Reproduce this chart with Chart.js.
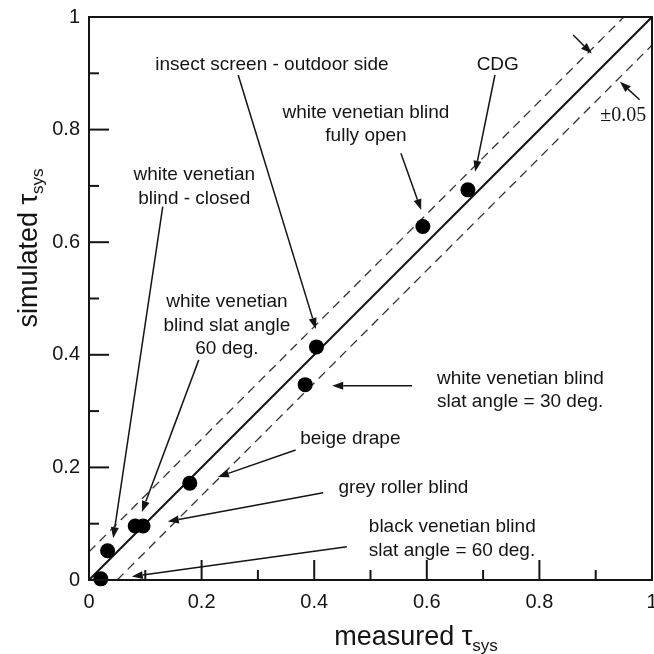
<!DOCTYPE html>
<html><head><meta charset="utf-8">
<script src="https://cdn.jsdelivr.net/npm/chart.js@4/dist/chart.umd.min.js"></script>
<style>html,body{margin:0;padding:0;background:#fff}#wrap{width:654px;height:654px;position:relative}</style>
</head><body><div id="wrap"><canvas id="c"></canvas></div>
<script>
// ---- data ----
const measured  = [0.021, 0.033, 0.082, 0.096, 0.179, 0.384, 0.404, 0.593, 0.673];
const simulated = [0.002, 0.052, 0.096, 0.096, 0.172, 0.347, 0.414, 0.628, 0.693];
// 1:1 line and +/-0.05 band
const identityX = [0, 1];
const identityY = [0, 1];
const upperX = [0, 0.95];
const upperY = [0.05, 1];
const lowerX = [0.05, 1];
const lowerY = [0, 0.95];
// axis ticks (step 0.1, labelled every 0.2)
const xTickLabels = ['0', '', '0.2', '', '0.4', '', '0.6', '', '0.8', '', '1'];
const yTickLabels = ['0', '', '0.2', '', '0.4', '', '0.6', '', '0.8', '', '1'];
const xTitle = ['measured \u03C4', 'sys'];
const yTitle = ['simulated \u03C4', 'sys'];

// annotation labels (text) and their placements in data units
const labelTexts = [
  ['insect screen - outdoor side'],
  ['CDG'],
  ['white venetian blind', 'fully open'],
  ['white venetian', 'blind - closed'],
  ['white venetian', 'blind slat angle', '60 deg.'],
  ['white venetian blind', 'slat angle = 30 deg.'],
  ['beige drape'],
  ['grey roller blind'],
  ['black venetian blind', 'slat angle = 60 deg.']
];
const labelPlacement = [
  {x:0.325, y:0.915, align:'center', tail:[0.265,0.897], tip:[0.403,0.446]},
  {x:0.726, y:0.915, align:'center', tail:[0.721,0.897], tip:[0.686,0.725]},
  {x:0.492, y:0.830, align:'center', tail:[0.554,0.758], tip:[0.590,0.657]},
  {x:0.187, y:0.719, align:'center', tail:[0.131,0.663], tip:[0.043,0.074]},
  {x:0.245, y:0.494, align:'center', tail:[0.195,0.391], tip:[0.094,0.121]},
  {x:0.618, y:0.358, align:'left',   tail:[0.574,0.345], tip:[0.432,0.345]},
  {x:0.375, y:0.251, align:'left',   tail:[0.367,0.231], tip:[0.229,0.183]},
  {x:0.443, y:0.163, align:'left',   tail:[0.416,0.155], tip:[0.140,0.104]},
  {x:0.497, y:0.094, align:'left',   tail:[0.458,0.059], tip:[0.076,0.006]}
];
const bandText = '\u00B10.05';
const bandPlacement = {x:0.908, y:0.824};
const bandArrows = [
  {tail:[0.978,0.853], tip:[0.943,0.885]},
  {tail:[0.860,0.968], tip:[0.893,0.935]}
];

const INK = '#141414';
const SANS = '"Liberation Sans", Arial, sans-serif';

function arrow(ctx, x1, y1, x2, y2) {
  const ang = Math.atan2(y2 - y1, x2 - x1);
  const L = 11, W = 4;
  const bx = x2 - L * Math.cos(ang), by = y2 - L * Math.sin(ang);
  ctx.beginPath(); ctx.moveTo(x1, y1); ctx.lineTo(bx, by); ctx.stroke();
  ctx.beginPath();
  ctx.moveTo(x2, y2);
  ctx.lineTo(bx + W * Math.sin(ang), by - W * Math.cos(ang));
  ctx.lineTo(bx - W * Math.sin(ang), by + W * Math.cos(ang));
  ctx.closePath(); ctx.fill();
}

function subTitle(ctx, parts, cx, cy, mainPx, subPx, rotate) {
  ctx.save();
  ctx.translate(cx, cy);
  if (rotate) ctx.rotate(-Math.PI / 2);
  ctx.font = mainPx + 'px ' + SANS;
  const w1 = ctx.measureText(parts[0]).width;
  ctx.font = subPx + 'px ' + SANS;
  const w2 = ctx.measureText(parts[1]).width;
  const start = -(w1 + w2) / 2;
  ctx.textBaseline = 'alphabetic'; ctx.textAlign = 'left';
  ctx.font = mainPx + 'px ' + SANS;
  ctx.fillText(parts[0], start, 0);
  ctx.font = subPx + 'px ' + SANS;
  ctx.fillText(parts[1], start + w1, 6);
  ctx.restore();
}

const deco = {
  id: 'deco',
  afterDraw(chart) {
    const {ctx, chartArea: a, scales: {x, y}} = chart;
    ctx.save();
    ctx.strokeStyle = INK; ctx.fillStyle = INK;
    // frame
    ctx.lineWidth = 2;
    ctx.strokeRect(a.left, a.top, a.right - a.left, a.bottom - a.top);
    // inward ticks
    ctx.lineWidth = 2;
    x.ticks.forEach((t, i) => {
      const px = x.getPixelForValue(t.value), len = i % 2 === 0 ? 20 : 10;
      ctx.beginPath(); ctx.moveTo(px, a.bottom); ctx.lineTo(px, a.bottom - len); ctx.stroke();
    });
    y.ticks.forEach((t, i) => {
      const py = y.getPixelForValue(t.value), len = i % 2 === 0 ? 20 : 10;
      ctx.beginPath(); ctx.moveTo(a.left, py); ctx.lineTo(a.left + len, py); ctx.stroke();
    });
    // annotations
    ctx.lineWidth = 1.5;
    ctx.font = '19px ' + SANS;
    ctx.textBaseline = 'middle';
    labelTexts.forEach((lines, k) => {
      const p = labelPlacement[k];
      const px = x.getPixelForValue(p.x), py = y.getPixelForValue(p.y);
      ctx.textAlign = p.align;
      lines.forEach((s, j) => ctx.fillText(s, px, py + j * 23.5));
      arrow(ctx, x.getPixelForValue(p.tail[0]), y.getPixelForValue(p.tail[1]),
                 x.getPixelForValue(p.tip[0]), y.getPixelForValue(p.tip[1]));
    });
    ctx.font = '20px "Liberation Serif", "Times New Roman", serif';
    ctx.textAlign = 'left';
    ctx.fillText(bandText, x.getPixelForValue(bandPlacement.x), y.getPixelForValue(bandPlacement.y));
    bandArrows.forEach(b => arrow(ctx, x.getPixelForValue(b.tail[0]), y.getPixelForValue(b.tail[1]),
                                       x.getPixelForValue(b.tip[0]), y.getPixelForValue(b.tip[1])));
    // axis titles
    subTitle(ctx, xTitle, 416, 645, 27, 17, false);
    subTitle(ctx, yTitle, 37, 248, 27, 17, true);
    ctx.restore();
  }
};

const pts = measured.map((m, i) => ({x: m, y: simulated[i]}));
const idLine = identityX.map((v, i) => ({x: v, y: identityY[i]}));
const upLine = upperX.map((v, i) => ({x: v, y: upperY[i]}));
const loLine = lowerX.map((v, i) => ({x: v, y: lowerY[i]}));

new Chart(document.getElementById('c'), {
  type: 'scatter',
  data: {
    datasets: [
      {data: idLine, showLine: true, borderColor: INK, borderWidth: 2, pointRadius: 0, order: 3},
      {data: upLine, showLine: true, borderColor: '#333', borderWidth: 1.3, borderDash: [9, 6], pointRadius: 0, order: 2},
      {data: loLine, showLine: true, borderColor: '#333', borderWidth: 1.3, borderDash: [9, 6], pointRadius: 0, order: 2},
      {data: pts, pointRadius: 7.5, pointHoverRadius: 7.5, backgroundColor: '#000', borderColor: '#000', borderWidth: 0, order: 1, clip: false}
    ]
  },
  options: {
    responsive: true, maintainAspectRatio: false, animation: false,
    devicePixelRatio: 1,
    layout: {autoPadding: false, padding: {top: 17, right: 2, left: 0, bottom: 0}},
    plugins: {legend: {display: false}, tooltip: {enabled: false}},
    scales: {
      x: {
        type: 'linear', min: 0, max: 1,
        grid: {display: false, drawTicks: false},
        border: {display: false},
        ticks: {stepSize: 0.1, autoSkip: false, maxRotation: 0, padding: 10, color: INK,
                font: {family: SANS, size: 20},
                callback: (v, i) => xTickLabels[i]},
        afterFit: s => { s.height = 74; s.paddingLeft = 0; s.paddingRight = 0; }
      },
      y: {
        type: 'linear', min: 0, max: 1,
        grid: {display: false, drawTicks: false},
        border: {display: false},
        ticks: {stepSize: 0.1, autoSkip: false, padding: 9, color: INK,
                font: {family: SANS, size: 20},
                callback: (v, i) => yTickLabels[i]},
        afterFit: s => { s.width = 89; s.paddingTop = 0; s.paddingBottom = 0; }
      }
    }
  },
  plugins: [deco]
});
</script>
</body></html>
